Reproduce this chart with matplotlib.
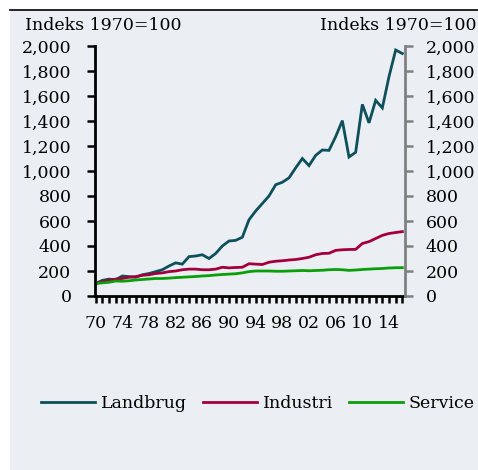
import matplotlib
matplotlib.use("Agg")
import matplotlib.pyplot as plt
from matplotlib.ticker import FuncFormatter, MultipleLocator
from matplotlib.patches import Rectangle
from matplotlib.lines import Line2D

years = list(range(1970, 2017))
landbrug = [100, 125, 135, 130, 160, 155, 150, 170, 180, 195,
            210, 240, 265, 255, 315, 320, 330, 300, 340, 400,
            440, 445, 470, 610, 680, 740, 800, 890, 910, 945,
            1025, 1100, 1043, 1125, 1168, 1165, 1275, 1403, 1112, 1150,
            1533, 1385, 1565, 1505, 1755, 1968, 1940]
industri = [100, 115, 125, 135, 140, 150, 155, 165, 170, 180,
            185, 195, 200, 210, 215, 215, 210, 210, 215, 230,
            225, 228, 230, 258, 255, 252, 270, 278, 282, 288,
            292, 300, 310, 330, 340, 342, 365, 370, 372, 373,
            420, 435, 460, 485, 500, 508, 515]
service = [100, 105, 110, 120, 118, 122, 128, 132, 136, 140,
           140, 143, 147, 150, 153, 156, 160, 163, 168, 172,
           175, 178, 185, 195, 200, 200, 200, 198, 198, 200,
           202, 204, 202, 204, 206, 210, 212, 210, 205, 208,
           212, 215, 218, 220, 224, 226, 227]
series_names = ["Landbrug", "Industri", "Service"]
colors = ["#0D4F5A", "#A3003B", "#0A9E0A"]
yticks = list(range(0, 2001, 200))
xlabel_years = list(range(1970, 2015, 4))
title_text = "Indeks 1970=100"

plt.rcParams['font.family'] = ['DejaVu Serif']
W, H = 478, 470
fig = plt.figure(figsize=(W / 100, H / 100), dpi=100)
fig.patch.set_facecolor("white")
bg = "#EBEFF3"
fig.patches.append(Rectangle((10 / W, 0), 1 - 10 / W, 1 - 10 / H, transform=fig.transFigure,
                             facecolor=bg, edgecolor="none", zorder=-10))
fig.lines.append(Line2D([10 / W, 1], [1 - 10 / H, 1 - 10 / H], transform=fig.transFigure,
                        color="black", lw=1.2, zorder=-5))

ax = fig.add_axes([95 / W, 1 - 296 / H, (405 - 95) / W, (296 - 46) / H])
ax.set_facecolor("none")
fs = 12.5
for vals, name, c in zip([landbrug, industri, service], series_names, colors):
    ax.plot(years, vals, color=c, lw=2.0, label=name, solid_joinstyle="miter")
ax.set_xlim(1969.9, 2016.4)
ax.set_ylim(0, 2000)
ax.set_yticks(yticks)
ax.yaxis.set_major_formatter(FuncFormatter(lambda v, p: f"{int(v):,}"))
ax.set_xticks(xlabel_years)
ax.set_xticklabels([f"{y % 100:02d}" for y in xlabel_years])
ax.xaxis.set_minor_locator(MultipleLocator(1))
for s in ["top", "right"]:
    ax.spines[s].set_visible(False)
ax.spines["left"].set_linewidth(2)
ax.spines["bottom"].set_linewidth(2)
ax.tick_params(axis="y", direction="out", length=6, width=1.8, pad=11, labelsize=fs, colors="black")
ax.tick_params(axis="x", which="both", direction="out", length=5, width=1.8, pad=9, labelsize=fs)

ax2 = ax.twinx()
ax2.set_ylim(0, 2000)
ax2.set_yticks(yticks)
ax2.yaxis.set_major_formatter(FuncFormatter(lambda v, p: f"{int(v):,}"))
for s in ["top", "left", "bottom"]:
    ax2.spines[s].set_visible(False)
ax2.spines["right"].set_color("#808080")
ax2.spines["right"].set_linewidth(2)
ax2.tick_params(axis="y", direction="out", length=6, width=1.8, pad=9, labelsize=fs,
                color="#808080", labelcolor="black")

fig.text(25 / W, 1 - 25 / H, title_text, fontsize=fs, ha="left", va="center")
fig.text(476 / W, 1 - 25 / H, title_text, fontsize=fs, ha="right", va="center")

handles, labels = ax.get_legend_handles_labels()
fig.legend(handles, labels, loc="center", bbox_to_anchor=(258 / W, 1 - 404 / H), ncol=3,
           frameon=False, fontsize=fs, handlelength=3.1, handletextpad=0.35, columnspacing=0.9)

fig.savefig("out.png", dpi=100, facecolor="white")
